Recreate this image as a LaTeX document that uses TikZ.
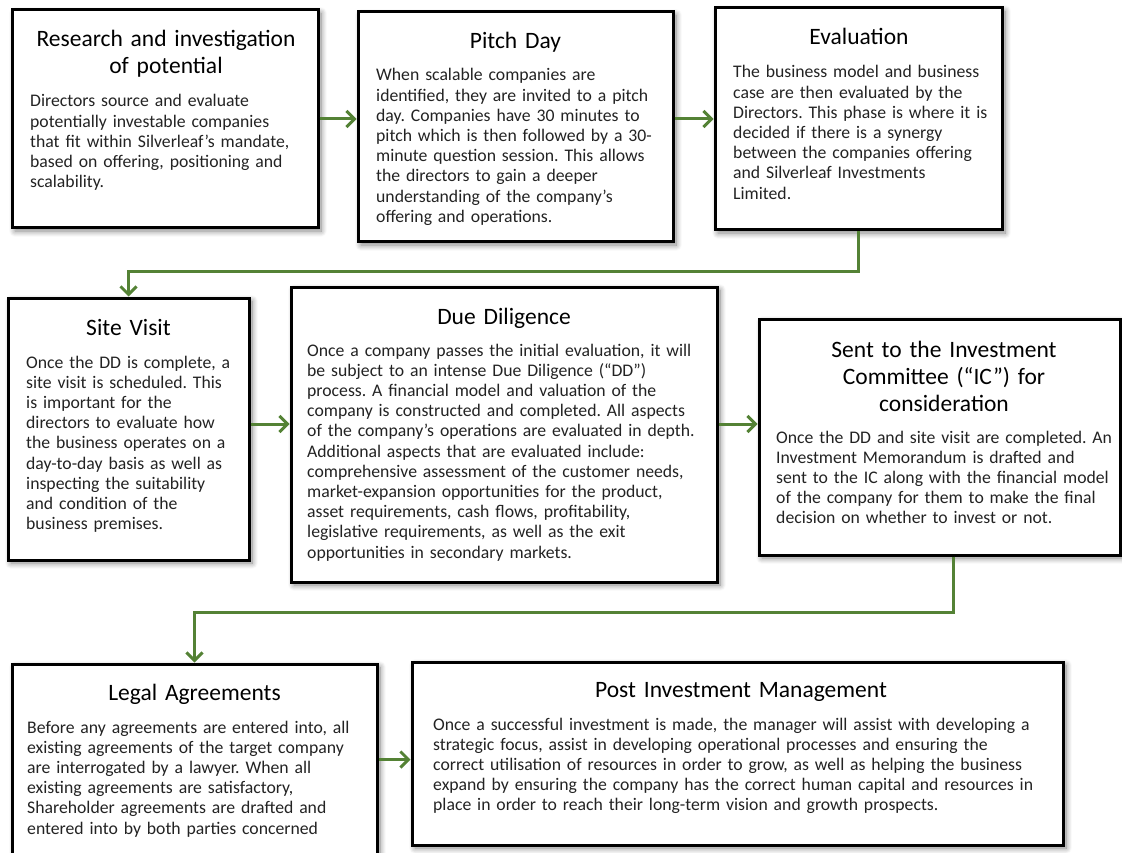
\documentclass[tikz,border=0pt]{standalone}
\usepackage{fontspec}
\setmainfont{Carlito}
\usetikzlibrary{arrows.meta,shadows.blur}
\definecolor{flowgreen}{RGB}{84,130,53}
\definecolor{bodygray}{RGB}{35,35,35}
\frenchspacing
\tikzset{
  box/.style={draw=black, line width=3pt, fill=white, rectangle, inner sep=0pt,
    blur shadow={shadow xshift=3pt, shadow yshift=-3pt, shadow blur radius=6pt,
      shadow blur steps=10, shadow opacity=50}},
  ttl/.style={font=\fontsize{23.5}{27}\selectfont, align=center, anchor=base,
    inner sep=0pt, text=black, text width=400pt},
  body/.style={font=\fontsize{17.7}{20.2}\selectfont, align=left, anchor=base west,
    inner sep=0pt, text=bodygray, text width=800pt},
  flow/.style={draw=flowgreen, line width=3pt,
    -{Straight Barb[length=8pt,width=16pt]}},
}
\begin{document}
\begin{tikzpicture}[x=1pt,y=-1pt]
\useasboundingbox (0,0) rectangle (1122,853);

% boxes
\node[box, minimum width=306pt, minimum height=218pt] (b1) at (165,119) {};
\node[box, minimum width=315pt, minimum height=230pt] (b2) at (515.5,127) {};
\node[box, minimum width=287pt, minimum height=222pt] (b3) at (858.5,119) {};
\node[box, minimum width=241pt, minimum height=262pt] (b4) at (128.5,429) {};
\node[box, minimum width=426pt, minimum height=295pt] (b5) at (504,434.5) {};
\node[box, minimum width=361pt, minimum height=236pt] (b6) at (939.5,437) {};
\node[box, minimum width=365pt, minimum height=216pt] (b7) at (194.5,772) {};
\node[box, minimum width=651pt, minimum height=183pt] (b8) at (737.5,753.5) {};

% titles
\node[ttl] (t1) at (166,47) {Research and investigation\\of potential};
\node[ttl] (t2) at (515.5,49) {Pitch Day};
\node[ttl] (t3) at (859,45) {Evaluation};
\node[ttl] (t4) at (128.5,335) {Site Visit};
\node[ttl] (t5) at (504,324) {Due Diligence};
\node[ttl] (t6) at (944,357) {Sent to the Investment\\Committee (“IC”) for\\consideration};
\node[ttl] (t7) at (194.5,700) {Legal Agreements};
\node[ttl] (t8) at (741,697) {Post Investment Management};

% bodies
\node[body] (d1) at (30,107) {Directors source and evaluate\\
potentially investable companies\\
that fit within Silverleaf’s mandate,\\
based on offering, positioning and\\
scalability.};
\node[body] (d2) at (376,81) {When scalable companies are\\
identified, they are invited to a pitch\\
day. Companies have 30 minutes to\\
pitch which is then followed by a 30-\\
minute question session. This allows\\
the directors to gain a deeper\\
understanding of the company's\\
offering and operations.};
\node[body] (d3) at (733,78) {The business model and business\\
case are then evaluated by the\\
Directors. This phase is where it is\\
decided if there is a synergy\\
between the companies offering\\
and Silverleaf Investments\\
Limited.};
\node[body] (d4) at (26,368) {Once the DD is complete, a\\
site visit is scheduled. This\\
is important for the\\
directors to evaluate how\\
the business operates on a\\
day-to-day basis as well as\\
inspecting the suitability\\
and condition of the\\
business premises.};
\node[body] (d5) at (307,356) {Once a company passes the initial evaluation, it will\\
be subject to an intense Due Diligence (“DD”)\\
process. A financial model and valuation of the\\
company is constructed and completed. All aspects\\
of the company's operations are evaluated in depth.\\
Additional aspects that are evaluated include:\\
comprehensive assessment of the customer needs,\\
market-expansion opportunities for the product,\\
asset requirements, cash flows, profitability,\\
legislative requirements, as well as the exit\\
opportunities in secondary markets.};
\node[body] (d6) at (776,443) {Once the DD and site visit are completed. An\\
Investment Memorandum is drafted and\\
sent to the IC along with the financial model\\
of the company for them to make the final\\
decision on whether to invest or not.};
\node[body] (d7) at (27,733) {Before any agreements are entered into, all\\
existing agreements of the target company\\
are interrogated by a lawyer. When all\\
existing agreements are satisfactory,\\
Shareholder agreements are drafted and\\
entered into by both parties concerned};
\node[body] (d8) at (433,730) {Once a successful investment is made, the manager will assist with developing a\\
strategic focus, assist in developing operational processes and ensuring the\\
correct utilisation of resources in order to grow, as well as helping the business\\
expand by ensuring the company has the correct human capital and resources in\\
place in order to reach their long-term vision and growth prospects.};

% connectors
\draw[flow] (b1.east) -- (b1.east -| b2.west);
\draw[flow] (b3.west -| b2.east) -- (b3.west);
\draw[flow] (b3.south) -- ++(0,40) -| (b4.north);
\draw[flow] ([yshift=5pt]b4.east) -- ([yshift=5pt]b4.east -| b5.west);
\draw[flow] ([yshift=5pt]b4.east -| b5.east) -- ([yshift=5pt]b4.east -| b6.west);
\draw[flow] ([xshift=13.5pt]b6.south) -- ++(0,56) -| (b7.north);
\draw[flow] ([yshift=-6pt]b8.west -| b7.east) -- ([yshift=-6pt]b8.west);
\end{tikzpicture}
\end{document}
